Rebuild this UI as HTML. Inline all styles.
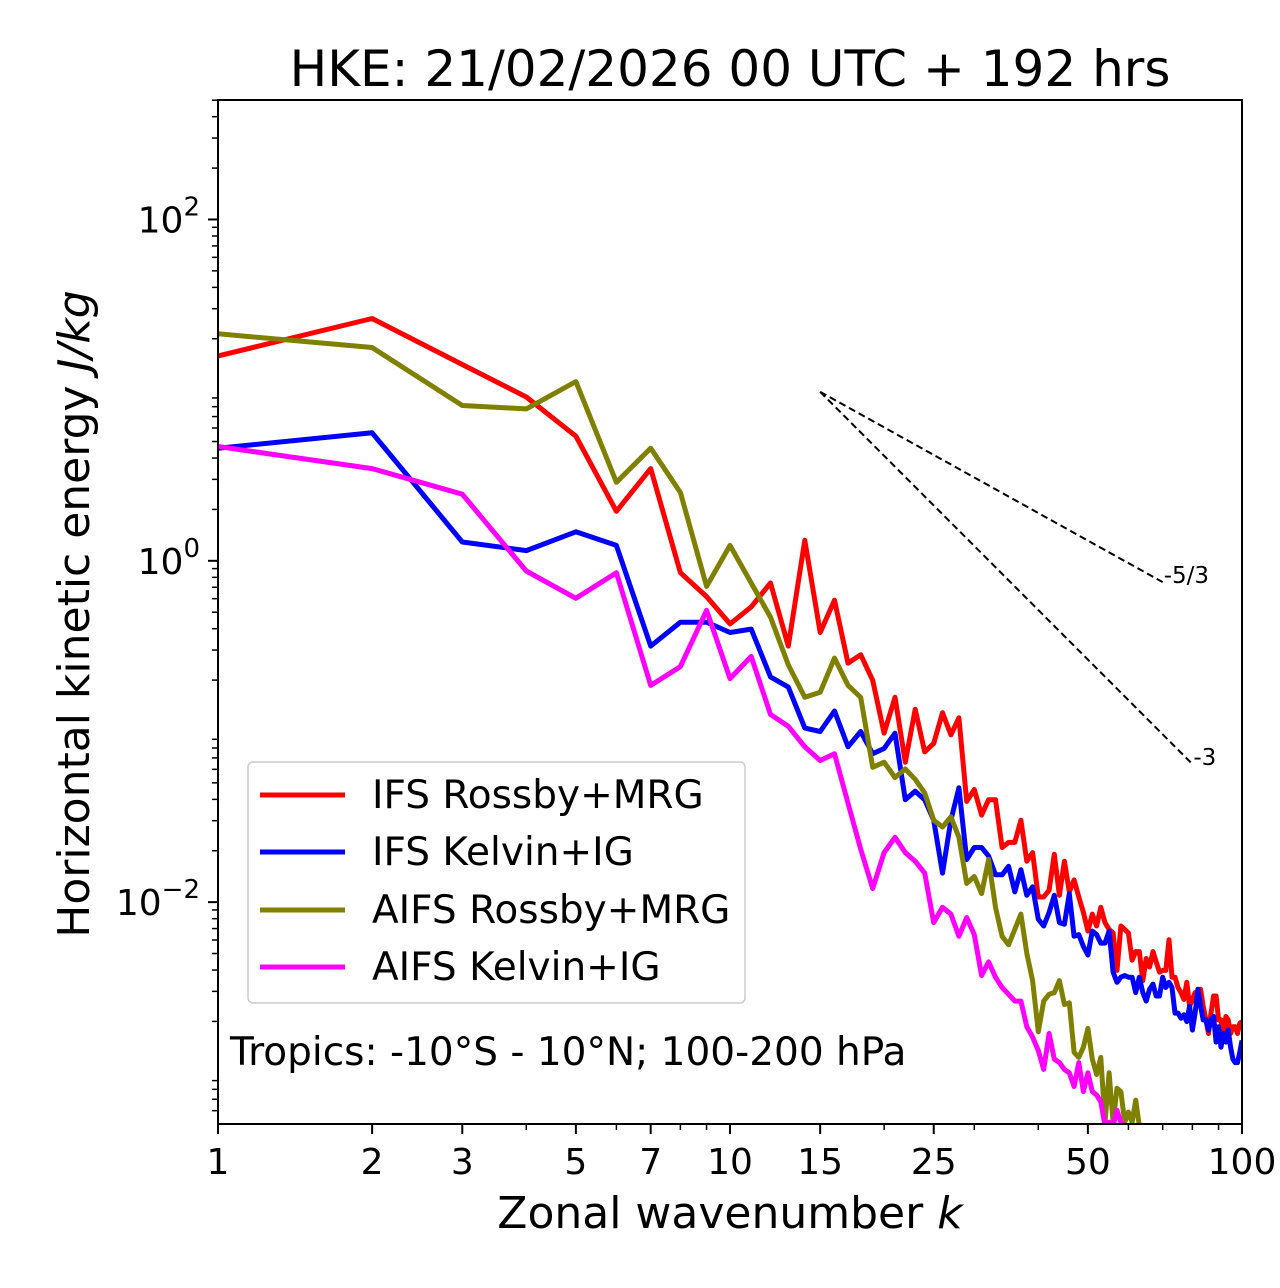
<!DOCTYPE html>
<html><head><meta charset="utf-8"><style>
html,body{margin:0;padding:0;background:#fff;}
svg{display:block;font-family:"DejaVu Sans","Liberation Sans",sans-serif;}
</style></head><body>
<svg id="chart" width="1280" height="1288" viewBox="0 0 1280 1288" xmlns="http://www.w3.org/2000/svg">
<defs><clipPath id="plotclip"><rect x="218" y="100" width="1024" height="1024"/></clipPath></defs>
<rect x="0" y="0" width="1280" height="1288" fill="#fff"/>
<text x="730" y="86" font-size="50" text-anchor="middle">HKE: 21/02/2026 00 UTC + 192 hrs</text>
<g id="series" clip-path="url(#plotclip)"></g>
<g id="ticks"></g>
<rect x="218" y="100" width="1024" height="1024" fill="none" stroke="#000" stroke-width="2"/>
<text x="730" y="1228" font-size="44" text-anchor="middle">Zonal wavenumber <tspan font-style="italic">k</tspan></text>
<text transform="translate(89,614) rotate(-90)" font-size="44" text-anchor="middle">Horizontal kinetic energy <tspan font-style="italic">J/kg</tspan></text>
<g>
<rect x="248" y="762" width="497" height="241" rx="5" fill="#fff" fill-opacity="0.8" stroke="#ccc" stroke-width="1.5"/>
<line x1="260" y1="795" x2="345" y2="795" stroke="#ff0000" stroke-width="5"/>
<text x="372" y="808" font-size="39">IFS Rossby+MRG</text>
<line x1="260" y1="852" x2="345" y2="852" stroke="#0000ff" stroke-width="5"/>
<text x="372" y="865" font-size="39">IFS Kelvin+IG</text>
<line x1="260" y1="910" x2="345" y2="910" stroke="#808000" stroke-width="5"/>
<text x="372" y="923" font-size="39">AIFS Rossby+MRG</text>
<line x1="260" y1="967" x2="345" y2="967" stroke="#ff00ff" stroke-width="5"/>
<text x="372" y="980" font-size="39">AIFS Kelvin+IG</text>
</g>
<text x="230" y="1065" font-size="39">Tropics: -10°S - 10°N; 100-200 hPa</text>
</svg>
<script>
// log10 of energy (J/kg) for k = 1..N
const ifsRossbyLog = [1.20,1.42,1.15,0.96,0.73,0.29,0.54,-0.07,-0.21,-0.37,-0.27,-0.13,-0.50,0.12,-0.42,-0.23,-0.60,-0.55,-0.70,-1.01,-0.80,-1.18,-0.87,-1.12,-1.07,-0.89,-1.02,-0.92,-1.41,-1.34,-1.49,-1.40,-1.40,-1.68,-1.65,-1.65,-1.52,-1.76,-1.71,-1.97,-1.97,-1.93,-1.72,-1.96,-1.76,-1.94,-1.87,-1.97,-2.06,-2.17,-2.07,-2.14,-2.03,-2.12,-2.16,-2.18,-2.40,-2.14,-2.16,-2.18,-2.34,-2.29,-2.29,-2.46,-2.33,-2.38,-2.29,-2.35,-2.41,-2.40,-2.40,-2.22,-2.44,-2.44,-2.50,-2.53,-2.57,-2.47,-2.61,-2.57,-2.53,-2.53,-2.51,-2.61,-2.69,-2.77,-2.65,-2.55,-2.55,-2.69,-2.69,-2.79,-2.67,-2.69,-2.77,-2.73,-2.73,-2.77,-2.71,-2.70];
const ifsKelvinLog = [0.66,0.75,0.11,0.06,0.17,0.09,-0.50,-0.36,-0.36,-0.42,-0.40,-0.68,-0.74,-0.98,-1.00,-0.88,-1.09,-1.00,-1.13,-1.10,-1.01,-1.40,-1.35,-1.40,-1.52,-1.83,-1.52,-1.33,-1.75,-1.68,-1.68,-1.73,-1.84,-1.84,-1.79,-1.94,-1.81,-1.96,-1.91,-2.10,-2.14,-2.06,-1.96,-2.12,-2.13,-1.95,-2.20,-2.19,-2.26,-2.31,-2.17,-2.19,-2.24,-2.24,-2.17,-2.41,-2.47,-2.44,-2.43,-2.44,-2.44,-2.53,-2.44,-2.53,-2.58,-2.51,-2.48,-2.55,-2.55,-2.44,-2.50,-2.47,-2.50,-2.65,-2.65,-2.68,-2.66,-2.70,-2.61,-2.75,-2.65,-2.51,-2.61,-2.69,-2.69,-2.75,-2.69,-2.67,-2.82,-2.73,-2.85,-2.77,-2.82,-2.75,-2.85,-2.92,-2.94,-2.94,-2.88,-2.81];
const aifsRossbyLog = [1.33,1.25,0.91,0.89,1.05,0.46,0.66,0.40,-0.15,0.09,-0.13,-0.33,-0.61,-0.80,-0.77,-0.57,-0.73,-0.80,-1.21,-1.18,-1.27,-1.22,-1.28,-1.36,-1.52,-1.56,-1.50,-1.62,-1.89,-1.85,-1.95,-1.75,-2.03,-2.20,-2.25,-2.16,-2.07,-2.30,-2.46,-2.76,-2.58,-2.54,-2.53,-2.46,-2.60,-2.59,-2.88,-2.91,-2.85,-2.74,-2.92,-3.01,-2.91,-3.29,-3.00,-3.29,-3.09,-3.11,-3.29,-3.23,-3.29,-3.16,-3.31,-3.40,-3.50];
const aifsKelvinLog = [0.67,0.54,0.39,-0.06,-0.22,-0.07,-0.73,-0.62,-0.29,-0.69,-0.56,-0.90,-0.97,-1.09,-1.17,-1.13,-1.42,-1.69,-1.92,-1.71,-1.62,-1.71,-1.76,-1.83,-2.12,-2.03,-2.07,-2.20,-2.09,-2.19,-2.43,-2.35,-2.44,-2.50,-2.54,-2.58,-2.58,-2.73,-2.79,-2.87,-2.98,-2.77,-2.92,-2.94,-2.98,-3.00,-3.08,-2.94,-3.11,-3.00,-3.11,-3.13,-3.17,-3.31,-3.29,-3.31,-3.22,-3.29,-3.39,-3.50];
const seriesNames = ["ifs-rossby-mrg","ifs-kelvin-ig","aifs-rossby-mrg","aifs-kelvin-ig"];
const seriesColors = ["#ff0000","#0000ff","#808000","#ff00ff"];
const xTickLabels = [1,2,3,5,7,10,15,25,50,100];
const xMinorTicks = [4,6,8,9,20,30,40,60,70,80,90];
const yMajorExps = [-2,0,2];
const slopeRef = [-5/3,-3];
const slopeLabels = ["-5/3","-3"];
const slopeStartK = 15, slopeStartLog = 0.99;
const slopeEndK = [70,80];

const NS="http://www.w3.org/2000/svg";
const X0=218,X1=1242,Y0=100,Y1=1124;
const xMinLog=0,xMaxLog=2,yMinLog=-3.3,yMaxLog=2.7;
function xs(k){return X0+(Math.log10(k)-xMinLog)/(xMaxLog-xMinLog)*(X1-X0);}
function ysLog(l){return Y1-(l-yMinLog)/(yMaxLog-yMinLog)*(Y1-Y0);}
function mk(tag,attrs,parent){const e=document.createElementNS(NS,tag);for(const a in attrs)e.setAttribute(a,attrs[a]);parent.appendChild(e);return e;}

const sg=document.getElementById('series');
[ifsRossbyLog,ifsKelvinLog,aifsRossbyLog,aifsKelvinLog].forEach((arr,i)=>{
  const pts=arr.map((v,j)=>xs(j+1).toFixed(1)+","+ysLog(v).toFixed(1)).join(" ");
  const p=mk('polyline',{points:pts,fill:'none',stroke:seriesColors[i],'stroke-width':5,'stroke-linejoin':'round'},sg);
  
  
});
slopeRef.forEach((s,i)=>{
  const endLog=slopeStartLog+s*(Math.log10(slopeEndK[i])-Math.log10(slopeStartK));
  const l=mk('line',{x1:xs(slopeStartK),y1:ysLog(slopeStartLog),x2:xs(slopeEndK[i]),y2:ysLog(endLog),stroke:'#000','stroke-width':2,'stroke-dasharray':'7,4'},sg);
  
  
  const t=mk('text',{x:xs(slopeEndK[i])+1,y:ysLog(endLog)+1,'font-size':23},document.getElementById('chart'));
  t.textContent=slopeLabels[i];
  
  
});

const tg=document.getElementById('ticks');
xTickLabels.forEach(k=>{
  const x=xs(k);
  const l=mk('line',{x1:x,y1:Y1,x2:x,y2:Y1+10,stroke:'#000','stroke-width':2},tg);
  
  
  const t=mk('text',{x:x,y:Y1+50,'font-size':36,'text-anchor':'middle'},tg);
  t.textContent=k;
  
  
});
xMinorTicks.forEach(k=>{
  const x=xs(k);
  const l=mk('line',{x1:x,y1:Y1,x2:x,y2:Y1+6,stroke:'#000','stroke-width':1.5},tg);
  
  
});
for(let d=-4;d<=2;d++){
  for(let m=2;m<=9;m++){
    const lv=d+Math.log10(m);
    if(lv<yMinLog||lv>yMaxLog)continue;
    const y=ysLog(lv);
    const l=mk('line',{x1:X0-6,y1:y,x2:X0,y2:y,stroke:'#000','stroke-width':1.5},tg);
    
    
  }
}
yMajorExps.forEach(e=>{
  const y=ysLog(e);
  const l=mk('line',{x1:X0-10,y1:y,x2:X0,y2:y,stroke:'#000','stroke-width':2},tg);
  
  
  const t=mk('text',{x:X0-18,y:y+13,'font-size':36,'text-anchor':'end'},tg);
  t.innerHTML='10<tspan dy="-17" font-size="26">'+(e<0?'\u2212'+(-e):e)+'</tspan>';
  
  
});
</script>
</body></html>
